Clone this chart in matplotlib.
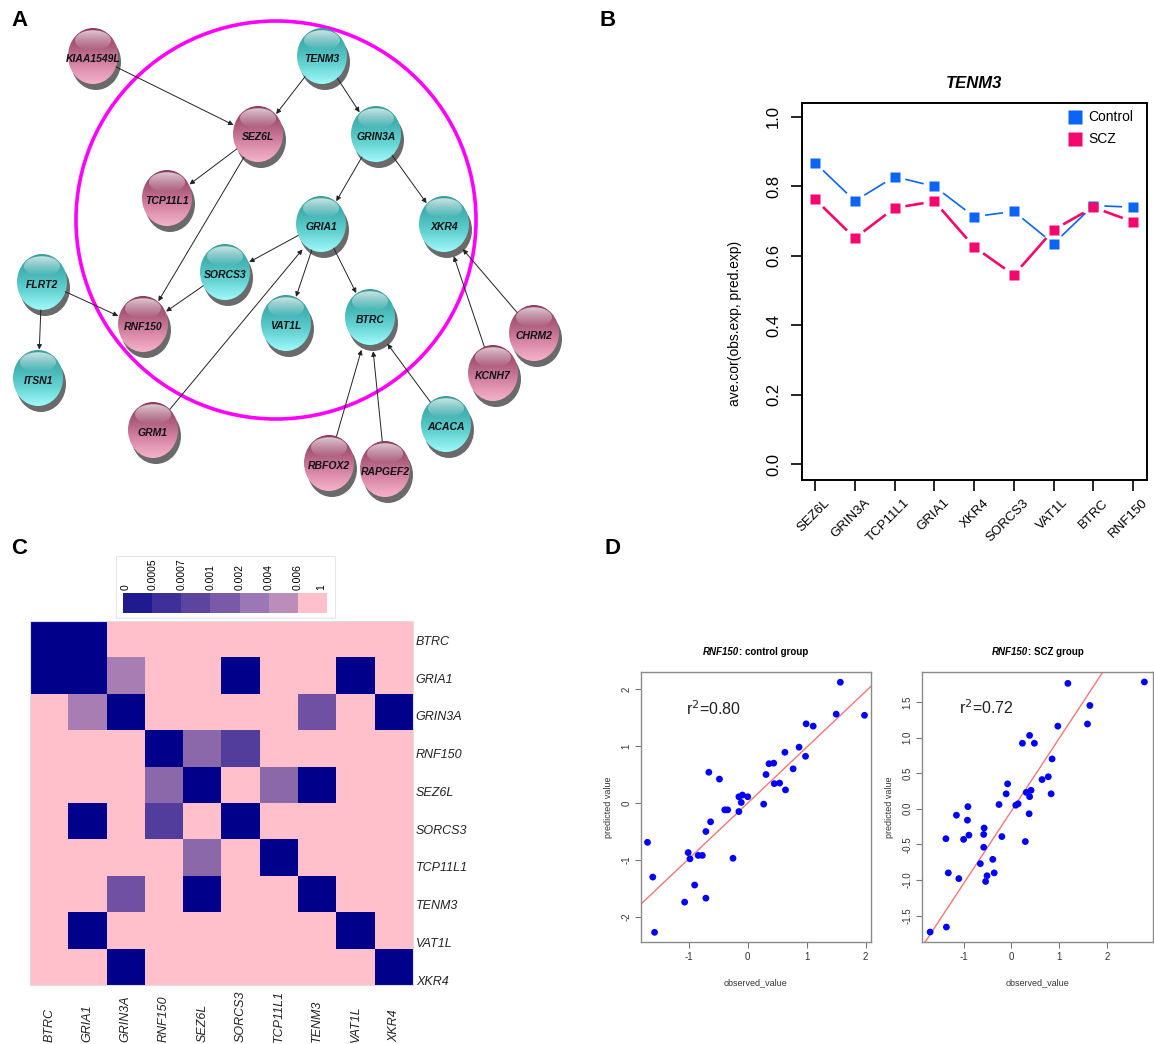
import numpy as np
import matplotlib
matplotlib.use("Agg")
import matplotlib.pyplot as plt
from matplotlib.patches import Ellipse, Rectangle
from matplotlib.colors import ListedColormap, BoundaryNorm, LinearSegmentedColormap
from matplotlib.transforms import ScaledTranslation, blended_transform_factory

plt.rcParams['font.family'] = ['Liberation Sans', 'DejaVu Sans']
plt.rcParams['axes.unicode_minus'] = False

W, H = 1154, 1044
fig = plt.figure(figsize=(W / 100, H / 100), dpi=100)


def px_axes(x0, y0, x1, y1):
    return fig.add_axes([x0 / W, 1 - y1 / H, (x1 - x0) / W, (y1 - y0) / H])


# ---------------- data ----------------
# Panel A: network
node_names = ['KIAA1549L', 'TENM3', 'SEZ6L', 'GRIN3A', 'TCP11L1', 'GRIA1', 'XKR4',
              'SORCS3', 'FLRT2', 'RNF150', 'VAT1L', 'BTRC', 'CHRM2', 'KCNH7',
              'ITSN1', 'GRM1', 'ACACA', 'RBFOX2', 'RAPGEF2']
node_x = [93, 322, 258, 376, 167, 321, 444, 225, 42, 143, 286, 370, 534, 493, 38, 153, 446, 329, 385]
node_y = [56, 56, 134, 134, 198, 224, 224, 272, 282, 324, 323, 317, 333, 373, 378, 430, 424, 463, 469]
node_group = ['pink', 'teal', 'pink', 'teal', 'pink', 'teal', 'teal', 'teal', 'teal', 'pink',
              'teal', 'teal', 'pink', 'pink', 'teal', 'pink', 'teal', 'pink', 'pink']
edges = [('KIAA1549L', 'SEZ6L'), ('TENM3', 'SEZ6L'), ('TENM3', 'GRIN3A'),
         ('SEZ6L', 'TCP11L1'), ('SEZ6L', 'RNF150'), ('GRIN3A', 'GRIA1'),
         ('GRIN3A', 'XKR4'), ('GRIA1', 'SORCS3'), ('GRIA1', 'VAT1L'),
         ('GRIA1', 'BTRC'), ('SORCS3', 'RNF150'), ('FLRT2', 'RNF150'),
         ('FLRT2', 'ITSN1'), ('GRM1', 'GRIA1'), ('RBFOX2', 'BTRC'),
         ('RAPGEF2', 'BTRC'), ('ACACA', 'BTRC'), ('KCNH7', 'XKR4'), ('CHRM2', 'XKR4')]

# Panel B
genes_b = ['SEZ6L', 'GRIN3A', 'TCP11L1', 'GRIA1', 'XKR4', 'SORCS3', 'VAT1L', 'BTRC', 'RNF150']
control_b = [0.868, 0.758, 0.828, 0.800, 0.713, 0.728, 0.635, 0.745, 0.740]
scz_b = [0.763, 0.651, 0.738, 0.757, 0.626, 0.545, 0.675, 0.740, 0.698]

# Panel C
genes_c = ['BTRC', 'GRIA1', 'GRIN3A', 'RNF150', 'SEZ6L', 'SORCS3', 'TCP11L1', 'TENM3', 'VAT1L', 'XKR4']
pval_c = [
    [0, 0, 1, 1, 1, 1, 1, 1, 1, 1],
    [0, 0, 0.003, 1, 1, 0, 1, 1, 0, 1],
    [1, 0.003, 0, 1, 1, 1, 1, 0.0008, 1, 0],
    [1, 1, 1, 0, 0.0015, 0.0006, 1, 1, 1, 1],
    [1, 1, 1, 0.0015, 0, 1, 0.0015, 0, 1, 1],
    [1, 0, 1, 0.0006, 1, 0, 1, 1, 1, 1],
    [1, 1, 1, 1, 0.0015, 1, 0, 1, 1, 1],
    [1, 1, 0.0008, 1, 0, 1, 1, 0, 1, 1],
    [1, 0, 1, 1, 1, 1, 1, 1, 0, 1],
    [1, 1, 0, 1, 1, 1, 1, 1, 1, 0],
]
cbar_bounds = [0, 0.0005, 0.0007, 0.001, 0.002, 0.004, 0.006, 1]
cbar_labels = ['0', '0.0005', '0.0007', '0.001', '0.002', '0.004', '0.006', '1']

# Panel D
ctrl_obs = [1.57, 1.50, 1.98, 0.99, 1.11, 0.87, 0.63, 0.98, 0.36, 0.44, 0.77, 0.31, -0.66, -0.48,
            0.45, 0.54, 0.64, -0.15, -0.09, 0.00, -0.11, 0.27, -0.39, -0.34, -0.15, -0.63, -0.71,
            -1.70, -1.01, -0.98, -0.84, -0.77, -0.25, -1.61, -0.90, -0.71, -1.07, -1.58]
ctrl_pred = [2.12, 1.56, 1.54, 1.39, 1.35, 0.98, 0.89, 0.82, 0.69, 0.70, 0.60, 0.50, 0.54, 0.42,
             0.34, 0.35, 0.23, 0.11, 0.14, 0.11, 0.01, -0.02, -0.12, -0.12, -0.15, -0.33, -0.50,
             -0.69, -0.87, -0.98, -0.92, -0.92, -0.97, -1.30, -1.44, -1.67, -1.74, -2.27]
scz_obs = [1.18, 2.78, 1.64, 0.97, 1.59, 0.38, 0.23, 0.48, 0.85, 0.77, 0.64, -0.08, -0.11, 0.83,
           0.41, 0.31, 0.38, -0.26, 0.14, 0.09, -0.91, 0.37, -1.15, -0.92, -0.57, -0.58, -0.89,
           -1.37, -1.00, -0.20, 0.29, -0.58, -0.39, -0.65, -1.32, -0.36, -0.51, -1.10, -0.54,
           -1.36, -1.70]
scz_pred = [1.76, 1.78, 1.45, 1.16, 1.19, 1.03, 0.92, 0.92, 0.70, 0.45, 0.41, 0.35, 0.21, 0.21,
            0.26, 0.23, 0.17, 0.06, 0.07, 0.05, 0.03, -0.07, -0.09, -0.16, -0.27, -0.36, -0.37,
            -0.42, -0.43, -0.39, -0.46, -0.54, -0.71, -0.77, -0.90, -0.90, -0.94, -0.98, -1.02,
            -1.66, -1.73]
fit_slope = [0.98, 1.02]
fit_intercept = [0.0, -0.03]
r2_text = ['0.80', '0.72']

# ---------------- panel letters ----------------
for lab, (x, y) in zip('ABCD', [(19, 20), (608, 20), (19, 548), (612, 548)]):
    fig.text(x / W, 1 - y / H, lab, fontsize=16, fontweight='bold', ha='center', va='center')

# ---------------- Panel A ----------------
axA = px_axes(0, 0, 580, 530)
axA.set_xlim(0, 580)
axA.set_ylim(530, 0)
axA.axis('off')

NW, NH = 50, 56
pos = {n: (x, y) for n, x, y in zip(node_names, node_x, node_y)}


def boundary(c, toward, a, b, oy):
    cx, cy = c[0], c[1] + oy
    dx, dy = toward[0] - cx, toward[1] - cy
    t = 1.0 / np.sqrt((dx / a) ** 2 + (dy / b) ** 2)
    return cx + t * dx, cy + t * dy


for s, t in edges:
    ps, pt = pos[s], pos[t]
    a = boundary(ps, pt, NW / 2, NH / 2, 0)
    b = boundary(pt, ps, NW / 2 + 1.5, NH / 2 + 3.5, 3)
    axA.annotate('', xy=b, xytext=a, zorder=7,
                 arrowprops=dict(arrowstyle='-|>', lw=0.7, color='#222222',
                                 mutation_scale=7, shrinkA=0, shrinkB=0))

axA.add_patch(Ellipse((276, 220), 400, 398, fill=False, edgecolor='#ff00ff', lw=2.6, zorder=2))

cm_teal = LinearSegmentedColormap.from_list('teal', ['#3c9c9c', '#44b4b4', '#66d4d4', '#a0fafa'])
cm_pink = LinearSegmentedColormap.from_list('pink', ['#8c3c5c', '#ad5c7c', '#d888a6', '#f6b2ca'])
grad = np.linspace(0, 1, 64).reshape(-1, 1)
hl = np.zeros((32, 1, 4))
hl[..., :3] = 1.0
hl[:, 0, 3] = np.linspace(0.75, 0.0, 32)

for n, x, y, g in zip(node_names, node_x, node_y, node_group):
    axA.add_patch(Ellipse((x + 3, y + 6), NW, NH, facecolor='#6a6a6a', edgecolor='none', zorder=3))
    body = Ellipse((x, y), NW, NH, facecolor='none', edgecolor='none', zorder=4)
    axA.add_patch(body)
    im = axA.imshow(grad, cmap=cm_teal if g == 'teal' else cm_pink, aspect='auto',
                    extent=(x - NW / 2, x + NW / 2, y + NH / 2, y - NH / 2), zorder=4,
                    interpolation='bilinear')
    im.set_clip_path(body)
    hle = Ellipse((x, y - NH * 0.28), NW * 0.72, NH * 0.36, facecolor='none', edgecolor='none',
                  zorder=5)
    axA.add_patch(hle)
    him = axA.imshow(hl, aspect='auto', interpolation='bilinear', zorder=5,
                     extent=(x - NW * 0.36, x + NW * 0.36, y - NH * 0.10, y - NH * 0.46))
    him.set_clip_path(hle)
    axA.text(x, y + 3, n, ha='center', va='center', fontsize=7.5, fontweight='bold',
             style='italic', color='#111111', zorder=6)
axA.set_xlim(0, 580)
axA.set_ylim(530, 0)

# ---------------- Panel B ----------------
axB = px_axes(802, 103, 1147, 480)
xb = np.arange(1, len(genes_b) + 1)
axB.set_xlim(0.67, len(genes_b) + 0.35)
axB.set_ylim(-0.045, 1.04)


def gapped_line(ax, x, y, color, lw, gap):
    pts = ax.transData.transform(np.column_stack([x, y]))
    inv = ax.transData.inverted()
    for i in range(len(pts) - 1):
        p0, p1 = pts[i], pts[i + 1]
        d = p1 - p0
        L = np.hypot(*d)
        if L <= 2 * gap:
            continue
        u = d / L
        a, b = inv.transform([p0 + u * gap, p1 - u * gap])
        ax.plot([a[0], b[0]], [a[1], b[1]], color=color, lw=lw, solid_capstyle='butt')


c_blue, c_pink = '#0a64f5', '#f5076e'
gapped_line(axB, xb, control_b, c_blue, 1.2, 11)
gapped_line(axB, xb, scz_b, c_pink, 1.9, 11)
axB.plot(xb, control_b, 's', color=c_blue, ms=7.5, mec='none')
axB.plot(xb, scz_b, 's', color=c_pink, ms=7.5, mec='none')
for sp in axB.spines.values():
    sp.set_linewidth(1.4)
axB.set_yticks(np.arange(0, 1.01, 0.2))
axB.set_yticklabels(['%.1f' % v for v in np.arange(0, 1.01, 0.2)], rotation=90, va='center',
                    fontsize=12)
axB.set_xticks(xb)
axB.set_xticklabels([])
tr = blended_transform_factory(axB.transData, axB.transAxes) + \
    ScaledTranslation(0.13, -0.21, fig.dpi_scale_trans)
for xi, g in zip(xb, genes_b):
    axB.text(xi, 0, g, transform=tr, rotation=45, ha='right', va='center',
             rotation_mode='anchor', fontsize=9.5)
axB.tick_params(axis='both', direction='out', length=8, width=1.2, pad=7)
axB.set_title('TENM3', fontsize=12, fontweight='bold', style='italic', pad=11)
fig.text(735 / W, 1 - 323 / H, 'ave.cor(obs.exp, pred.exp)', rotation=90, ha='center',
         va='center', fontsize=10)
# legend
axB.plot([0.79], [0.962], 's', color=c_blue, ms=10, mec='none', transform=axB.transAxes,
         clip_on=False)
axB.plot([0.79], [0.904], 's', color=c_pink, ms=10, mec='none', transform=axB.transAxes,
         clip_on=False)
axB.text(0.83, 0.962, 'Control', transform=axB.transAxes, va='center', fontsize=10)
axB.text(0.83, 0.904, 'SCZ', transform=axB.transAxes, va='center', fontsize=10)

# ---------------- Panel C ----------------
heat_colors = ['#00008b', '#523c9c', '#7050a2', '#8a68aa', '#a87db3', '#bb8dbb', '#ffc0cb']
cbar_colors = ['#1f1a8f', '#3f2f98', '#5c45a0', '#7a5aa8', '#9b78b5', '#bb8dbb', '#ffc0cb']
norm = BoundaryNorm(cbar_bounds, len(heat_colors))
axC = px_axes(30, 621, 413, 985)
axC.imshow(np.array(pval_c), cmap=ListedColormap(heat_colors), norm=norm, aspect='auto',
           interpolation='nearest')
for sp in axC.spines.values():
    sp.set_color('#dddddd')
    sp.set_linewidth(0.8)
nC = len(genes_c)
axC.yaxis.tick_right()
axC.set_yticks(np.arange(nC) * 1.038 + 0.03)
axC.set_yticklabels(genes_c, fontsize=9, style='italic', color='#222222')
axC.set_xticks(np.arange(nC))
axC.set_xticklabels([])
trc = blended_transform_factory(axC.transData, fig.transFigure)
for xi, g in enumerate(genes_c):
    axC.text(xi, 1.5 / H, g, transform=trc, rotation=90, ha='center', va='bottom',
             fontsize=9, style='italic', color='#222222')
axC.tick_params(axis='both', length=0)
axC.tick_params(axis='y', pad=2)
axC.set_ylim(nC - 0.5, -0.5)

# colour key
fig.patches.append(Rectangle((116 / W, 1 - 618 / H), 219 / W, 62 / H, transform=fig.transFigure,
                             fill=False, edgecolor='#e6e6e6', lw=0.8))
axK = px_axes(123, 593, 327, 613)
axK.imshow(np.arange(len(cbar_colors)).reshape(1, -1), cmap=ListedColormap(cbar_colors),
           aspect='auto', interpolation='nearest')
axK.set_yticks([])
axK.xaxis.tick_top()
kt = list(np.arange(len(cbar_colors)) - 0.5) + [len(cbar_colors) - 0.7]
kt[0] = -0.4
axK.set_xticks(kt)
axK.set_xticklabels(cbar_labels, rotation=90, fontsize=7.5, va='bottom')
axK.tick_params(axis='x', length=0, pad=2)
for sp in axK.spines.values():
    sp.set_visible(False)

# ---------------- Panel D ----------------
specs = [
    dict(rect=(641, 672, 871, 942), obs=ctrl_obs, pred=ctrl_pred, xlim=(-1.81, 2.09),
         ylim=(-2.44, 2.30), yt=[-2, -1, 0, 1, 2], ytl=['-2', '-1', '0', '1', '2'],
         title=': control group', r2pos=(-1.05, 1.65)),
    dict(rect=(922, 672, 1153, 942), obs=scz_obs, pred=scz_pred, xlim=(-1.87, 2.96),
         ylim=(-1.87, 1.92), yt=[-1.5, -1, -0.5, 0, 0.5, 1, 1.5],
         ytl=['-1.5', '-1.0', '-0.5', '0.0', '0.5', '1.0', '1.5'],
         title=': SCZ group', r2pos=(-1.09, 1.42)),
]
title_pairs = []
for i, sp_ in enumerate(specs):
    ax = px_axes(*sp_['rect'])
    ax.scatter(sp_['obs'], sp_['pred'], s=24, color='#0000ff', edgecolors='none', zorder=3)
    ax.axline((0, fit_intercept[i]), slope=fit_slope[i], color='#f07878', lw=1.0, zorder=2)
    ax.set_xlim(*sp_['xlim'])
    ax.set_ylim(*sp_['ylim'])
    ax.set_xticks([-1, 0, 1, 2])
    ax.set_xticklabels(['-1', '0', '1', '2'], fontsize=7, color='#333333')
    ax.set_yticks(sp_['yt'])
    ax.set_yticklabels(sp_['ytl'], fontsize=7, color='#333333', rotation=90, va='center')
    ax.tick_params(axis='both', direction='out', length=4, width=0.8, color='#777777', pad=3)
    for s in ax.spines.values():
        s.set_color('#8a8a8a')
        s.set_linewidth(1.0)
    ax.set_xlabel('observed_value', fontsize=6.5, color='#333333', labelpad=12)
    ax.set_ylabel('predicted value', fontsize=6.5, color='#333333', labelpad=6)
    ax.text(sp_['r2pos'][0], sp_['r2pos'][1], r'r$^2$=' + r2_text[i], fontsize=11.5,
            va='center', color='#222222')
    t1 = ax.text(0.5, 1.055, 'RNF150', transform=ax.transAxes, ha='right', va='bottom',
                 fontsize=7, fontweight='bold', style='italic')
    t2 = ax.annotate(sp_['title'], xy=(1, 0), xycoords=t1, ha='left', va='bottom',
                     fontsize=7, fontweight='bold')
    title_pairs.append((ax, t1, t2))

fig.canvas.draw()
r = fig.canvas.get_renderer()
for ax, t1, t2 in title_pairs:
    w1 = t1.get_window_extent(r).width
    w2 = t2.get_window_extent(r).width
    axw = ax.get_window_extent(r).width
    shift = (w1 - w2) / 2.0 / axw
    t1.set_position((0.5 + shift, 1.055))

fig.savefig('out.png', dpi=100, facecolor='white')
